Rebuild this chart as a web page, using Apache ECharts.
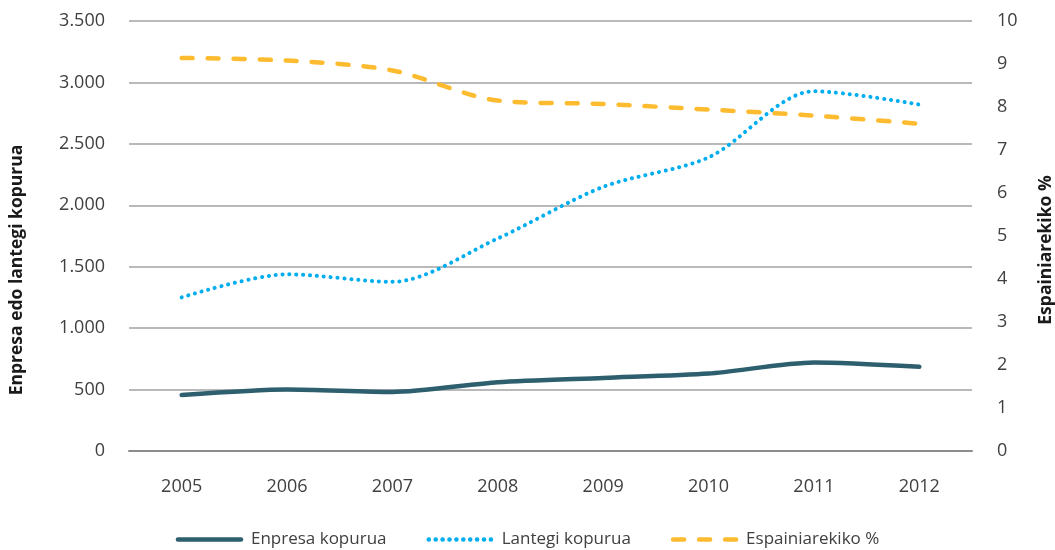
<!DOCTYPE html>
<html>
<head>
<meta charset="utf-8">
<script src="https://cdn.jsdelivr.net/npm/echarts@6/dist/echarts.min.js"></script>
<style>
html,body{margin:0;padding:0;background:#fff;}
#chart{width:1055px;height:550px;}
</style>
</head>
<body>
<div id="chart"></div>
<script>
const categories = ['2005','2006','2007','2008','2009','2010','2011','2012'];
const enpresaKopurua = [455, 500, 480, 560, 595, 630, 720, 685];
const lantegiKopurua = [1250, 1438, 1377, 1730, 2150, 2390, 2928, 2820];
const espainiarekiko = [9.14, 9.08, 8.85, 8.15, 8.07, 7.94, 7.80, 7.61];
const seriesNames = ['Enpresa kopurua', 'Lantegi kopurua', 'Espainiarekiko %'];
const leftAxisTitle = 'Enpresa edo lantegi kopurua';
const rightAxisTitle = 'Espainiarekiko %';

const FONT = '"Open Sans", "Noto Sans", sans-serif';
const chart = echarts.init(document.getElementById('chart'), null, {renderer: 'canvas'});

function fmtThousands(v) {
  return String(v).replace(/\B(?=(\d{3})+(?!\d))/g, '.');
}

chart.setOption({
  animation: false,
  backgroundColor: '#ffffff',
  grid: {left: 129, right: 83, top: 21, bottom: 99, containLabel: false},
  legend: {
    bottom: -3,
    left: 'center',
    itemWidth: 63,
    itemHeight: 14,
    itemGap: 40,
    itemStyle: {opacity: 0},
    lineStyle: {width: 4.5, cap: 'round'},
    textStyle: {fontFamily: FONT, fontSize: 17, color: '#404040', padding: [0, 0, 0, 5]},
    data: seriesNames
  },
  graphic: [
    {type: 'text', x: 17, y: 270, rotation: Math.PI / 2,
     style: {text: leftAxisTitle, fontFamily: FONT, fontSize: 17.5, fontWeight: 'bold', fill: '#1a1a1a',
             align: 'center', verticalAlign: 'middle', textAlign: 'center', textVerticalAlign: 'middle'}},
    {type: 'text', x: 1046, y: 250, rotation: Math.PI / 2,
     style: {text: rightAxisTitle, fontFamily: FONT, fontSize: 17.5, fontWeight: 'bold', fill: '#1a1a1a',
             align: 'center', verticalAlign: 'middle', textAlign: 'center', textVerticalAlign: 'middle'}}
  ],
  xAxis: {
    type: 'category',
    data: categories,
    boundaryGap: true,
    axisLine: {show: true, lineStyle: {color: '#8c8c8c', width: 2}},
    axisTick: {show: false},
    axisLabel: {fontFamily: FONT, fontSize: 18, color: '#404040', margin: 27},
    splitLine: {show: false}
  },
  yAxis: [
    {
      type: 'value', min: 0, max: 3500, interval: 500,
      axisLine: {show: false}, axisTick: {show: false},
      axisLabel: {fontFamily: FONT, fontSize: 18, color: '#404040', margin: 24, formatter: fmtThousands},
      splitLine: {show: true, lineStyle: {color: '#b9b9b9', width: 2}}
    },
    {
      type: 'value', min: 0, max: 10, interval: 1,
      axisLine: {show: false}, axisTick: {show: false},
      axisLabel: {fontFamily: FONT, fontSize: 18, color: '#404040', margin: 25},
      splitLine: {show: false}
    }
  ],
  series: [
    {
      name: seriesNames[0], type: 'line', yAxisIndex: 0, data: enpresaKopurua,
      smooth: 0.25, symbol: 'none',
      lineStyle: {color: '#2d5f6e', width: 4.5, cap: 'round'},
      itemStyle: {color: '#2d5f6e'}
    },
    {
      name: seriesNames[1], type: 'line', yAxisIndex: 0, data: lantegiKopurua,
      smooth: 0.3, symbol: 'none',
      lineStyle: {color: '#00aeef', width: 4, type: [0.1, 6.8], cap: 'round'},
      itemStyle: {color: '#00aeef'}
    },
    {
      name: seriesNames[2], type: 'line', yAxisIndex: 1, data: espainiarekiko,
      smooth: 0.3, symbol: 'none',
      lineStyle: {color: '#fdbb2f', width: 4.5, type: [11, 15], cap: 'round'},
      itemStyle: {color: '#fdbb2f'}
    }
  ]
});
</script>
</body>
</html>
